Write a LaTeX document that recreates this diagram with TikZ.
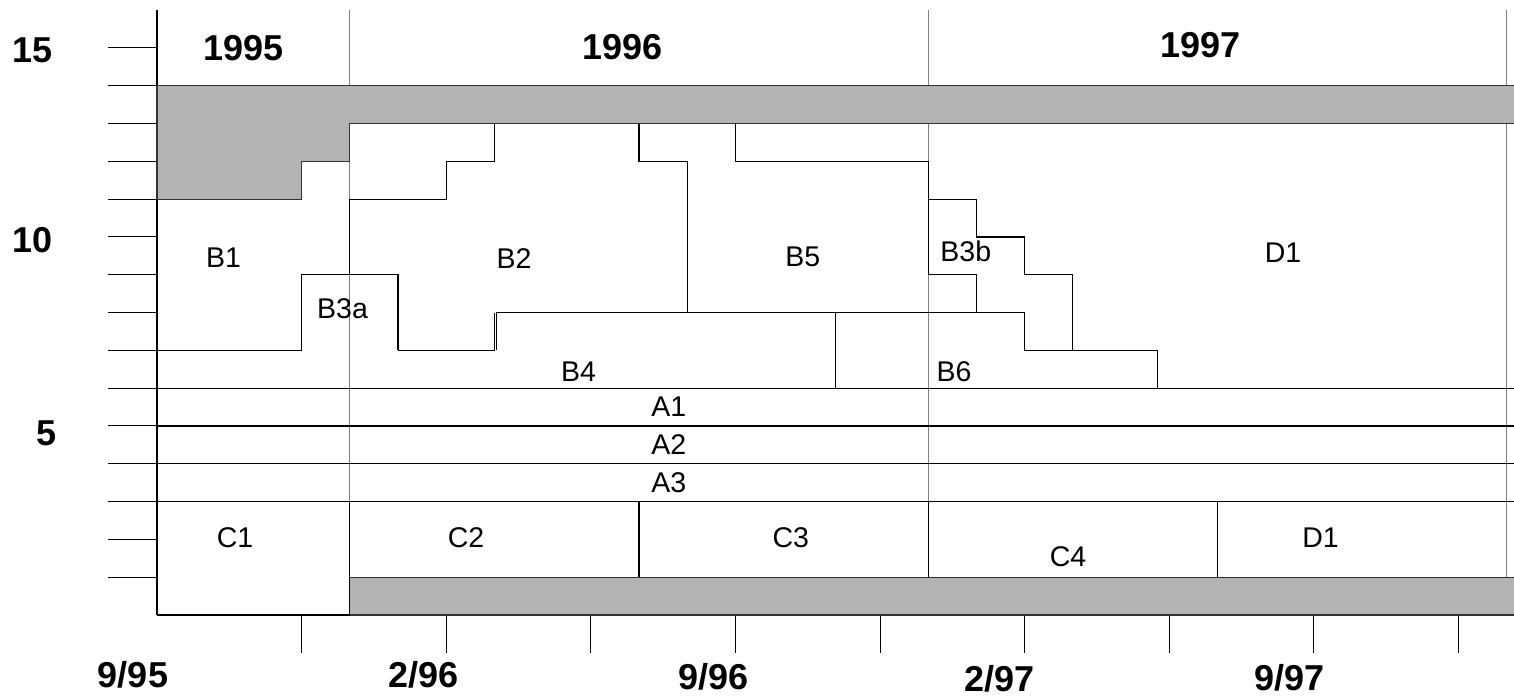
\documentclass[tikz,border=0pt]{standalone}
\usepackage{fontspec}
\setmainfont{Liberation Sans}
\definecolor{shade}{HTML}{B3B3B3}
\definecolor{yearline}{HTML}{808080}
\definecolor{edge}{HTML}{333333}
\begin{document}
\begin{tikzpicture}[x=48.2pt, y=37.8pt,
  blk/.style={line width=1.2pt, black},
  tick/.style={line width=1pt, black},
  yr/.style={line width=1pt, yearline},
  shadefill/.style={fill=shade},
  shadeedge/.style={line width=1.2pt, edge},
  lbl/.style={inner sep=0pt, font=\fontsize{28.5}{32}\selectfont},
  axlbl/.style={inner sep=0pt, font=\bfseries\fontsize{36}{40}\selectfont}]
\useasboundingbox (-157pt,-81pt) rectangle (1357pt,615pt);
\fill[white] (-157pt,-81pt) rectangle (1357pt,615pt);

% year dividers
\foreach \m in {4,16,28} \draw[yr] (\m,0) -- (\m,16);

% axes and ticks
\draw[blk] (0,0) -- (0,16);
\foreach \k in {1,...,15} \draw[tick] (-1.017,\k) -- (0,\k);
\foreach \m in {3,6,...,27} \draw[tick] (\m,0) -- (\m,-1.01);

% shaded bands
\fill[shadefill] (0,14) -- (28.2,14) -- (28.2,13) -- (4,13) -- (4,12) -- (3,12) -- (3,11) -- (0,11) -- cycle;
\draw[shadeedge] (28.2,14) -- (0,14) -- (0,11) -- (3,11) -- (3,12) -- (4,12) -- (4,13) -- (28.2,13);
\fill[shadefill] (4,1) rectangle (28.2,0);
\draw[shadeedge] (28.2,1) -- (4,1) -- (4,0) -- (28.2,0);

% full-width rows
\foreach \k in {3,4,5,6} \draw[blk] (0,\k) -- (28.2,\k);

% B block boundaries
\draw[blk] (0,7) -- (3,7);
\draw[blk] (3,7) -- (3,9) -- (5,9) -- (5,7);
\draw[blk] (4,9) -- (4,11) -- (6,11) -- (6,12) -- (7,12) -- (7,13);
\draw[blk] (5,7) -- (7,7) -- (7,8);
\draw[blk] (7.04,7) -- (7.04,8) -- (18,8) -- (18,7) -- (20.75,7) -- (20.75,6);
\draw[blk] (10,13) -- (10,12) -- (11,12) -- (11,8);
\draw[blk] (12,13) -- (12,12) -- (16,12) -- (16,9);
\draw[blk] (16,11) -- (17,11) -- (17,10) -- (18,10) -- (18,9) -- (19,9) -- (19,7);
\draw[blk] (16,9) -- (17,9) -- (17,8);
\draw[blk] (14.07,8) -- (14.07,6);

% C row
\draw[blk] (0,0) -- (4,0) -- (4,3);
\foreach \m in {10,16,22} \draw[blk] (\m,3) -- (\m,1);

% axis labels
\node[axlbl] (n15) at (-2.573,14.95) {15};
\node[axlbl] (n10) at (-2.573,9.92) {10};
\node[axlbl] (n5) at (-2.282,4.815) {5};
\node[axlbl] (y1995) at (1.799,14.99) {1995};
\node[axlbl] (y1996) at (9.662,15.03) {1996};
\node[axlbl] (y1997) at (21.65,15.08) {1997};
\node[axlbl] (t995) at (-0.498,-1.59) {9/95};
\node[axlbl] (t296) at (5.52,-1.59) {2/96};
\node[axlbl] (t996) at (11.55,-1.63) {9/96};
\node[axlbl] (t297) at (17.47,-1.68) {2/97};
\node[axlbl] (t997) at (23.5,-1.66) {9/97};

% block labels
\node[lbl] (b1) at (1.38,9.444) {B1};
\node[lbl] (b3a) at (3.85,8.114) {B3a};
\node[lbl] (b2) at (7.41,9.437) {B2};
\node[lbl] (b5) at (13.40,9.48) {B5};
\node[lbl] (b3b) at (16.78,9.61) {B3b};
\node[lbl] (d1top) at (23.36,9.58) {D1};
\node[lbl] (b4) at (8.745,6.437) {B4};
\node[lbl] (b6) at (16.535,6.43) {B6};
\node[lbl] (a1) at (10.62,5.51) {A1};
\node[lbl] (a2) at (10.62,4.516) {A2};
\node[lbl] (a3) at (10.62,3.5) {A3};
\node[lbl] (c1) at (1.618,2.037) {C1};
\node[lbl] (c2) at (6.41,2.037) {C2};
\node[lbl] (c3) at (13.15,2.037) {C3};
\node[lbl] (c4) at (18.9,1.54) {C4};
\node[lbl] (d1bot) at (24.14,2.04) {D1};
\end{tikzpicture}
\end{document}
